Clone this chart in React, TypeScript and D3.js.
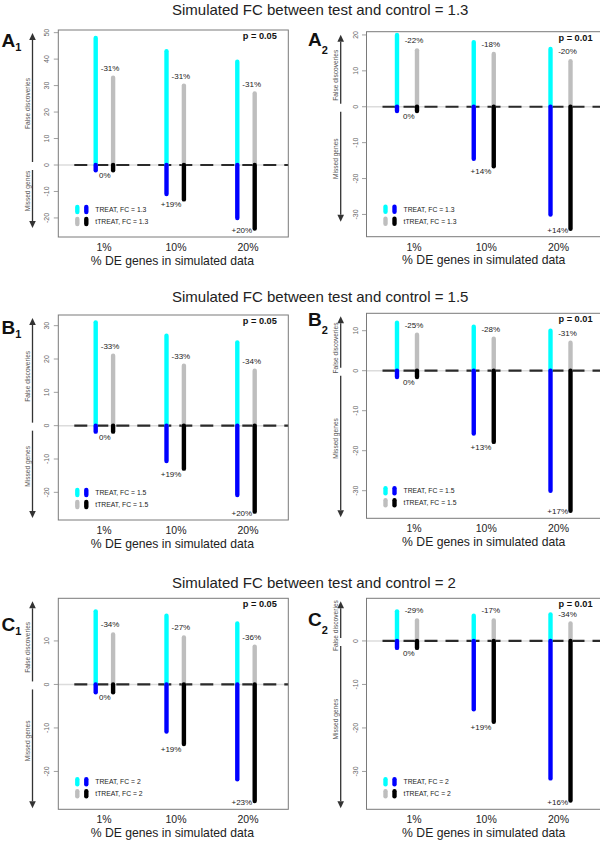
import * as d3 from 'd3'

const categories = ['1%', '10%', '20%']
const titles = [
  'Simulated FC between test and control = 1.3',
  'Simulated FC between test and control = 1.5',
  'Simulated FC between test and control = 2',
]

// FC = 1.3, p = 0.05
const treatFdA1 = [48, 43, 39]
const ttreatFdA1 = [33, 30, 27]
const treatMissA1 = [-2, -11, -20]
const ttreatMissA1 = [-2, -13, -24]
const fdPctA1 = ['-31%', '-31%', '-31%']
const missPctA1 = ['0%', '+19%', '+20%']
// FC = 1.3, p = 0.01
const treatFdA2 = [20, 18, 16.1]
const ttreatFdA2 = [15.7, 14.7, 12.7]
const treatMissA2 = [-1.2, -14.5, -30]
const ttreatMissA2 = [-1.2, -16.6, -34]
const fdPctA2 = ['-22%', '-18%', '-20%']
const missPctA2 = ['0%', '+14%', '+14%']
// FC = 1.5, p = 0.05
const treatFdB1 = [31, 27, 25]
const ttreatFdB1 = [21, 18, 16.5]
const treatMissB1 = [-1.8, -10.6, -20.8]
const ttreatMissB1 = [-1.8, -12.9, -25.8]
const fdPctB1 = ['-33%', '-33%', '-34%']
const missPctB1 = ['0%', '+19%', '+20%']
// FC = 1.5, p = 0.01
const treatFdB2 = [12, 11, 10]
const ttreatFdB2 = [9, 8, 7]
const treatMissB2 = [-1.6, -15.7, -30]
const ttreatMissB2 = [-1.6, -17.8, -35]
const fdPctB2 = ['-25%', '-28%', '-31%']
const missPctB2 = ['0%', '+13%', '+17%']
// FC = 2, p = 0.05
const treatFdC1 = [16.8, 15.8, 14]
const ttreatFdC1 = [11.5, 10.8, 8.7]
const treatMissC1 = [-1.8, -10.8, -21.8]
const ttreatMissC1 = [-1.8, -13.7, -26.8]
const fdPctC1 = ['-34%', '-27%', '-36%']
const missPctC1 = ['0%', '+19%', '+23%']
// FC = 2, p = 0.01
const treatFdC2 = [6.8, 5.8, 6.1]
const ttreatFdC2 = [4.7, 4.7, 4]
const treatMissC2 = [-1.6, -15.7, -31.6]
const ttreatMissC2 = [-1.6, -18.6, -36.7]
const fdPctC2 = ['-29%', '-17%', '-34%']
const missPctC2 = ['0%', '+19%', '+16%']

const font = "'Liberation Sans', Arial, Helvetica, sans-serif"
const CYAN = '#00FFFF', BLUE = '#0000FF', GRAY = '#BEBEBE', BLACK = '#000000'

const sides: any = {
  left: { boxL: 58.3, boxR: 288.3, pairs: [104.4, 246], labels: [104, 248], off: 8.7, letterX: 1.5, subDy: 4 },
  right: { boxL: 366.5, boxR: 604, pairs: [407, 560.5], labels: [414, 558.5], off: 10, letterX: 308, subDy: 8 },
}

const panels = [
  { letter: 'A', sub: '1', fc: '1.3', p: 'p = 0.05', side: 'left', top: 30, bottom: 237, lim: [-27.2, 51], letterY: 46.7, arrowCut: 9,
    treat: treatFdA1, ttreat: ttreatFdA1, treatMiss: treatMissA1, ttreatMiss: ttreatMissA1, fdPct: fdPctA1, missPct: missPctA1 },
  { letter: 'A', sub: '2', fc: '1.3', p: 'p = 0.01', side: 'right', top: 31.7, bottom: 236.7, lim: [-36.2, 20.9], letterY: 45.7, arrowCut: 15,
    treat: treatFdA2, ttreat: ttreatFdA2, treatMiss: treatMissA2, ttreatMiss: ttreatMissA2, fdPct: fdPctA2, missPct: missPctA2 },
  { letter: 'B', sub: '1', fc: '1.5', p: 'p = 0.05', side: 'left', top: 315, bottom: 520, lim: [-28.3, 33.2], letterY: 334, arrowCut: 2,
    treat: treatFdB1, ttreat: ttreatFdB1, treatMiss: treatMissB1, ttreatMiss: ttreatMissB1, fdPct: fdPctB1, missPct: missPctB1 },
  { letter: 'B', sub: '2', fc: '1.5', p: 'p = 0.01', side: 'right', top: 313.3, bottom: 518.3, lim: [-36.9, 14.35], letterY: 325.7, arrowCut: 1,
    treat: treatFdB2, ttreat: ttreatFdB2, treatMiss: treatMissB2, ttreatMiss: ttreatMissB2, fdPct: fdPctB2, missPct: missPctB2 },
  { letter: 'C', sub: '1', fc: '2', p: 'p = 0.05', side: 'left', top: 598.3, bottom: 809.3, lim: [-28.7, 19.8], letterY: 630.7, arrowCut: 1,
    treat: treatFdC1, ttreat: ttreatFdC1, treatMiss: treatMissC1, ttreatMiss: ttreatMissC1, fdPct: fdPctC1, missPct: missPctC1 },
  { letter: 'C', sub: '2', fc: '2', p: 'p = 0.01', side: 'right', top: 598.3, bottom: 809.3, lim: [-38.7, 9.8], letterY: 626, arrowCut: 1,
    treat: treatFdC2, ttreat: ttreatFdC2, treatMiss: treatMissC2, ttreatMiss: ttreatMissC2, fdPct: fdPctC2, missPct: missPctC2 },
]
const titleY = [15, 301.7, 588.3]

const Arrow = ({ x, from, to }: { x: number, from: number, to: number }) => {
  // arrow head at "to"
  const dir = to < from ? 1 : -1
  const base = to + dir * 7
  return (
    <g>
      <line x1={x} x2={x} y1={from} y2={base} stroke='#333' strokeWidth={1.3} />
      <path d={`M${x},${to}L${x - 3.3},${base}L${x + 3.3},${base}Z`} fill='#333' />
    </g>
  )
}

const Panel = ({ p }: { p: any }) => {
  const s = sides[p.side]
  const y = d3.scaleLinear().domain(p.lim).range([p.bottom, p.top])
  const xBar = d3.scalePoint().domain(categories).range(s.pairs)
  const xLab = d3.scalePoint().domain(categories).range(s.labels)
  const y0 = y(0)
  const ticks = y.ticks(6)
  const arrowX = s.boxL - 25.8
  const upMid = (p.top + 3 + y0 - 3) / 2
  const downMid = (y0 + 5 + p.bottom - p.arrowCut) / 2
  const bars = [
    { vals: p.treat, col: CYAN, dx: -s.off },
    { vals: p.treatMiss, col: BLUE, dx: -s.off },
    { vals: p.ttreat, col: GRAY, dx: s.off },
    { vals: p.ttreatMiss, col: BLACK, dx: s.off },
  ]
  const legend = [
    { cols: [CYAN, BLUE], label: `TREAT, FC = ${p.fc}`, dy: -27.5 },
    { cols: [GRAY, BLACK], label: `tTREAT, FC = ${p.fc}`, dy: -15.5 },
  ]
  return (
    <g fontFamily={font}>
      {/* zero line */}
      <line x1={s.boxL} x2={s.boxR} y1={y0} y2={y0} stroke='#dcdcdc' strokeWidth={1.5} />
      <line x1={s.boxL + 16} x2={s.boxR} y1={y0} y2={y0} stroke='#2a2a2a' strokeWidth={2.2} strokeDasharray='13 8' />

      {bars.map((b, k) => b.vals.map((v: number, i: number) => (
        <line key={`${k}-${i}`} x1={xBar(categories[i])! + b.dx} x2={xBar(categories[i])! + b.dx}
          y1={y0} y2={y(v)} stroke={b.col} strokeWidth={4.4} strokeLinecap='round' />
      )))}

      {/* percent changes */}
      {categories.map((c, i) => (
        <g key={c} fontSize={8} fill='#222'>
          <text x={xBar(c)! + s.off - 3} y={y(p.ttreat[i]) - 7} textAnchor='middle'>{p.fdPct[i]}</text>
          <text x={xBar(c)! + s.off - 2.5} y={Math.min(y(p.ttreatMiss[i]) + 8, p.bottom - 4)} textAnchor='end'>{p.missPct[i]}</text>
        </g>
      ))}

      {/* box */}
      <rect x={s.boxL} y={p.top} width={s.boxR - s.boxL} height={p.bottom - p.top} fill='none' stroke='#7a7a7a' strokeWidth={1} />

      {/* y axis */}
      {ticks.map(t => (
        <g key={t}>
          <line x1={s.boxL - 4.5} x2={s.boxL} y1={y(t)} y2={y(t)} stroke='#888' strokeWidth={0.8} />
          <text transform={`translate(${s.boxL - 9},${y(t)}) rotate(-90)`} textAnchor='middle' fontSize={7} fill='#666'>{t}</text>
        </g>
      ))}

      <Arrow x={arrowX} from={y0 - 3} to={p.top + 3} />
      <Arrow x={arrowX} from={y0 + 5} to={p.bottom - p.arrowCut} />
      <text transform={`translate(${s.boxL - 28.5},${upMid + 6}) rotate(-90)`} textAnchor='middle' fontSize={6.6} fill='#555'>False discoveries</text>
      <text transform={`translate(${s.boxL - 28.5},${downMid - 8}) rotate(-90)`} textAnchor='middle' fontSize={6.6} fill='#555'>Missed genes</text>

      {/* legend */}
      {legend.map((l, r) => (
        <g key={r}>
          {l.cols.map((col, j) => (
            <line key={col} x1={s.boxL + 19 + j * 9} x2={s.boxL + 19 + j * 9} y1={p.bottom + l.dy - 2.5} y2={p.bottom + l.dy + 2.5}
              stroke={col} strokeWidth={4.4} strokeLinecap='round' />
          ))}
          <text x={s.boxL + 37} y={p.bottom + l.dy + 2.4} fontSize={6.8} fill='#222'>{l.label}</text>
        </g>
      ))}

      <text x={s.boxR - 11.5} y={p.top + 9} textAnchor='end' fontSize={9.2} fontWeight='bold' fill='#111'>{p.p}</text>

      {/* x axis */}
      {categories.map(c => (
        <text key={c} x={xLab(c)} y={p.bottom + 14} textAnchor='middle' fontSize={10.5} fill='#222'>{c}</text>
      ))}
      <text x={(s.boxL + Math.min(s.boxR, 603)) / 2 - 1} y={p.bottom + 27.5} textAnchor='middle' fontSize={12.2} fill='#222'>% DE genes in simulated data</text>

      <text x={s.letterX} y={p.letterY} fontSize={19} fontWeight='bold' fill='#111'>
        {p.letter}<tspan fontSize={11} dy={s.subDy}>{p.sub}</tspan>
      </text>
    </g>
  )
}

export default function App() {
  return (
    <svg width={600} height={842} style={{ position: 'absolute', left: 0, top: 0, background: '#fff' }}>
      {titles.map((t, i) => (
        <text key={t} x={172} y={titleY[i]} fontFamily={font} fontSize={15} fill='#222'>{t}</text>
      ))}
      {panels.map((p, i) => <Panel key={i} p={p} />)}
    </svg>
  )
}
